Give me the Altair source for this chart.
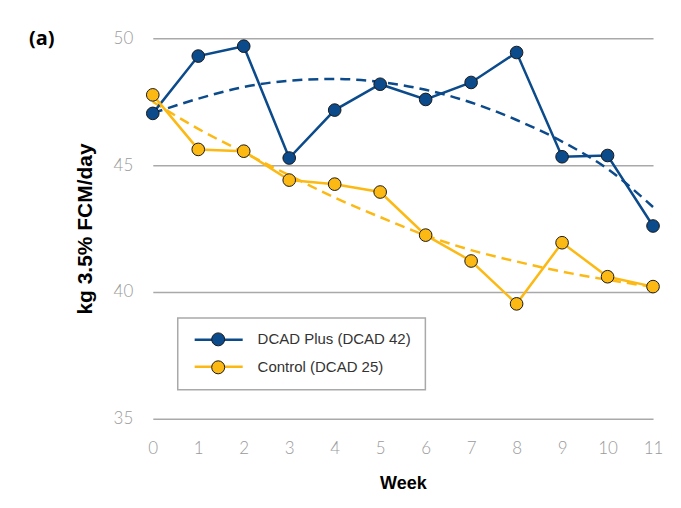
import altair as alt
import pandas as pd

weeks = list(range(12))
dcad_plus = [47.04, 49.30, 49.69, 45.28, 47.17, 48.19, 47.59, 48.26, 49.44, 45.33, 45.38, 42.60]
control = [47.77, 45.62, 45.55, 44.41, 44.25, 43.94, 42.24, 41.22, 39.53, 41.94, 40.60, 40.21]
# dashed trend curves at each week
dcad_plus_trend = [47.05, 47.62, 48.08, 48.33, 48.40, 48.28, 47.97, 47.47, 46.78, 45.93, 44.85, 43.35]
control_trend = [47.50, 46.43, 45.50, 44.60, 43.72, 42.95, 42.23, 41.65, 41.20, 40.80, 40.48, 40.20]
series_names = ["DCAD Plus (DCAD 42)", "Control (DCAD 25)"]
series_keys = ["plus", "control"]
series_colors = ["#0b4a8b", "#fdb913"]
y_ticks = [35, 40, 45, 50]

n = len(weeks)
df = pd.DataFrame({
    "week": weeks * 2,
    "value": dcad_plus + control,
    "series": [series_names[0]] * n + [series_names[1]] * n,
    "key": [series_keys[0]] * n + [series_keys[1]] * n,
})
trend_df = pd.DataFrame({
    "week": weeks * 2,
    "value": dcad_plus_trend + control_trend,
    "series": [series_names[0]] * n + [series_names[1]] * n,
})

label_font = "Lato"
title_font = "Liberation Sans, Arial, sans-serif"

x_enc = alt.X("week:Q",
              scale=alt.Scale(domain=[0, 11], nice=False, zero=False),
              axis=alt.Axis(values=weeks, grid=False, domain=False, ticks=False,
                            labelFlush=False,
                            labelColor="#9a9a9a", labelFontSize=17, labelFont=label_font,
                            labelFontWeight=300, labelPadding=22,
                            title="Week", titleFont=title_font, titleFontSize=18,
                            titleFontWeight="bold", titleColor="#000", titlePadding=18))
y_enc = alt.Y("value:Q",
              scale=alt.Scale(domain=[35, 50], nice=False, zero=False),
              axis=alt.Axis(values=y_ticks, grid=True, gridColor="#a9a9a9", gridWidth=1.5,
                            domain=False, ticks=False, labelFlush=False,
                            labelColor="#9a9a9a", labelFontSize=17, labelFont=label_font,
                            labelFontWeight=300, labelPadding=20,
                            title="kg 3.5% FCM/day", titleFont=title_font, titleFontSize=21,
                            titleFontWeight="bold", titleColor="#000", titlePadding=18))

name_scale = alt.Scale(domain=series_names, range=series_colors)
key_scale = alt.Scale(domain=series_keys, range=series_colors)

common = dict(orient="none", legendX=25, legendY=280, title=None, padding=14,
              symbolSize=169, symbolOffset=19, labelOffset=32, rowPadding=11,
              labelFont="Liberation Sans", labelFontSize=15, labelColor="#333")

# line part of the legend symbols (drawn beneath, blank labels)
line_legend = alt.Legend(
    symbolType="M-3.7,0H3.7", symbolStrokeWidth=2.5, labelExpr="' '", zindex=0,
    **common)

# circle part of the legend symbols, with labels and the frame
point_legend = alt.Legend(
    strokeColor="#a9a9a9",
    symbolType="circle", symbolStrokeColor="#1a1a1a", symbolStrokeWidth=1,
    symbolOpacity=1, zindex=1, **common)

base = alt.Chart(df)

trend = alt.Chart(trend_df).mark_line(
    strokeDash=[10, 6], strokeWidth=2.5, interpolate="monotone"
).encode(
    x=x_enc, y=y_enc,
    color=alt.Color("series:N", scale=name_scale, legend=None),
)

lines = base.mark_line(strokeWidth=2.5).encode(
    x=x_enc, y=y_enc,
    stroke=alt.Stroke("key:N", scale=key_scale, legend=line_legend, sort=series_keys),
)

points = base.mark_point(filled=True, size=160, stroke="#1a1a1a", strokeWidth=1, opacity=1).encode(
    x=x_enc, y=y_enc,
    fill=alt.Fill("series:N", scale=name_scale, legend=point_legend, sort=series_names),
)

label = alt.Chart(pd.DataFrame({"t": ["(a)"]})).mark_text(
    align="left", baseline="middle", fontSize=20, fontWeight="bold",
    font="Open Sans", color="#000"
).encode(text="t:N", x=alt.value(-124), y=alt.value(1))

chart = alt.layer(trend, lines, points, label).resolve_scale(
    color="independent", stroke="independent", fill="independent"
).properties(
    width=501, height=381,
    autosize=alt.AutoSizeParams(type="none"),
    padding={"left": 145, "top": 30, "right": 20, "bottom": 75},
    background="white",
).configure_view(stroke=None).configure_legend(strokeWidth=1.5)

chart.save("out.html", embed_options={"renderer": "svg", "actions": False})
